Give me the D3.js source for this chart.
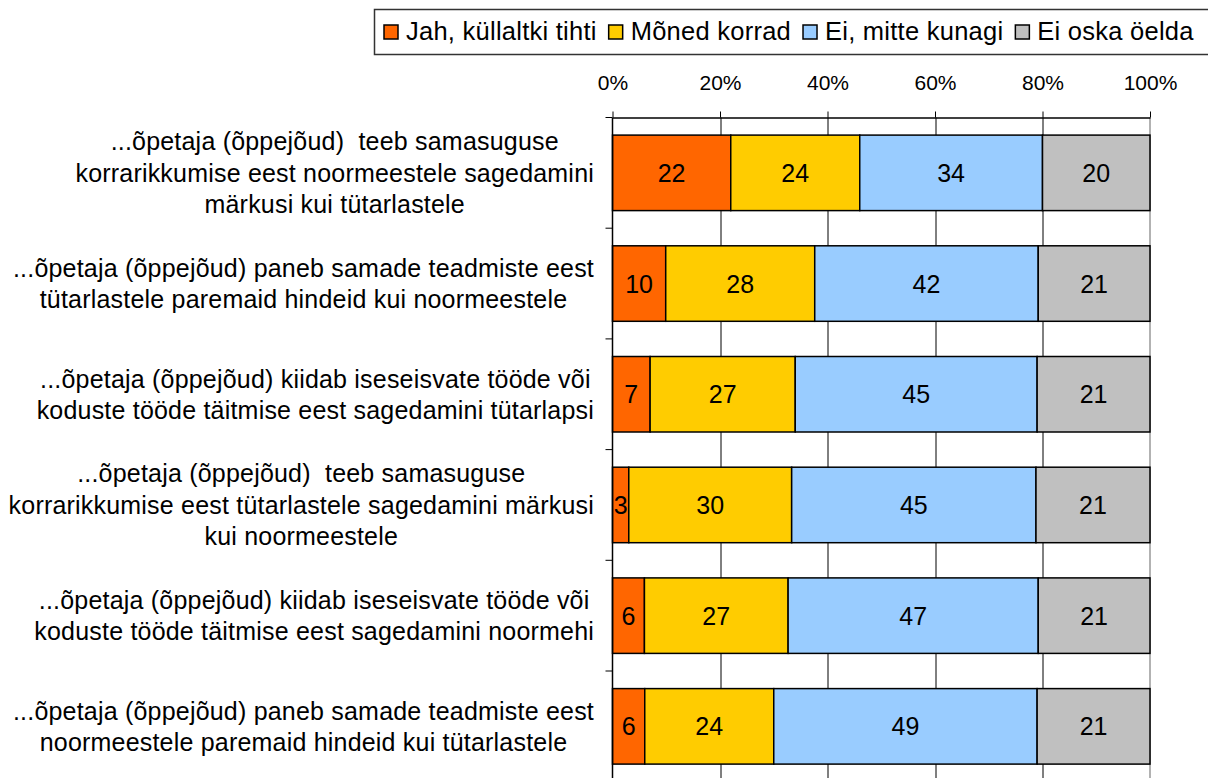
<!DOCTYPE html>
<html>
<head>
<meta charset="utf-8">
<script src="https://cdn.jsdelivr.net/npm/d3@7"></script>
<style>
	body { margin: 0; background: #fff; }
	svg { font-family: "Liberation Sans", Arial, sans-serif; }
</style>
</head>
<body>
<div id="chart"></div>
<script>
(function () {
	"use strict";

	// Data
	var categories = [
		["...õpetaja (õppejõud)  teeb samasuguse", "korrarikkumise eest noormeestele sagedamini", "märkusi kui tütarlastele"],
		["...õpetaja (õppejõud) paneb samade teadmiste eest", "tütarlastele paremaid hindeid kui noormeestele"],
		["...õpetaja (õppejõud) kiidab iseseisvate tööde või", "koduste tööde täitmise eest sagedamini tütarlapsi"],
		["...õpetaja (õppejõud)  teeb samasuguse", "korrarikkumise eest tütarlastele sagedamini märkusi", "kui noormeestele"],
		["...õpetaja (õppejõud) kiidab iseseisvate tööde või", "koduste tööde täitmise eest sagedamini noormehi"],
		["...õpetaja (õppejõud) paneb samade teadmiste eest", "noormeestele paremaid hindeid kui tütarlastele"]
	];
	var seriesNames = ["Jah, küllaltki tihti", "Mõned korrad", "Ei, mitte kunagi", "Ei oska öelda"];
	var jahValues = [22, 10, 7, 3, 6, 6];
	var monedValues = [24, 28, 27, 30, 27, 24];
	var eiValues = [34, 42, 45, 45, 47, 49];
	var eiOskaValues = [20, 21, 21, 21, 21, 21];
	var tickValues = [0, 0.2, 0.4, 0.6, 0.8, 1];
	var colors = ["#FF6600", "#FFCC00", "#99CCFF", "#C0C0C0"];

	var canvasWidth = 1208,
		canvasHeight = 778,
		margin = {top: 117.5, left: 612.5},
		width = 537.5,
		step = 110.7,
		height = step * categories.length;

	var svg = d3.select("#chart").append("svg")
		.attr("width", canvasWidth)
		.attr("height", canvasHeight);

	var keys = d3.range(categories.length);
	var allValues = [jahValues, monedValues, eiValues, eiOskaValues];
	var rows = keys.map(function (i) {
		var row = {idx: i};
		seriesNames.forEach(function (s, j) { row[s] = allValues[j][i]; });
		return row;
	});

	var stack = d3.stack().keys(seriesNames).offset(d3.stackOffsetExpand);
	var stacked = stack(rows);

	var x = d3.scaleLinear().domain([0, 1]).range([0, width]);
	var y = d3.scaleBand().domain(keys).range([0, height])
		.paddingInner(0.318).paddingOuter(0.159);

	var graph = svg.append("g")
		.attr("transform", "translate(" + margin.left + "," + margin.top + ")");

	// vertical gridlines
	graph.append("g").selectAll("line")
		.data(tickValues.slice(1, -1))
		.enter().append("line")
		.attr("x1", function (d) { return Math.round(x(d)) + 0.5; })
		.attr("x2", function (d) { return Math.round(x(d)) + 0.5; })
		.attr("y1", 0).attr("y2", height)
		.attr("stroke", "#000").attr("stroke-width", 1);

	// right border
	graph.append("line")
		.attr("x1", x(1)).attr("x2", x(1))
		.attr("y1", 0).attr("y2", height)
		.attr("stroke", "#999").attr("stroke-width", 1.5);

	// bars
	var layers = graph.selectAll(".layer")
		.data(stacked)
		.enter().append("g")
		.attr("class", "layer")
		.attr("fill", function (d, i) { return colors[i]; });

	layers.selectAll("rect")
		.data(function (d) { return d; })
		.enter().append("rect")
		.attr("x", function (d) { return x(d[0]); })
		.attr("width", function (d) { return x(d[1]) - x(d[0]); })
		.attr("y", function (d) { return y(d.data.idx); })
		.attr("height", y.bandwidth())
		.attr("stroke", "#000")
		.attr("stroke-width", 1.5);

	// value labels
	layers.selectAll("text")
		.data(function (d) { return d.map(function (p) { return {p: p, key: d.key}; }); })
		.enter().append("text")
		.attr("x", function (d) { return (x(d.p[0]) + x(d.p[1])) / 2; })
		.attr("y", function (d) { return y(d.p.data.idx) + y.bandwidth() / 2; })
		.attr("dy", "0.36em")
		.attr("text-anchor", "middle")
		.attr("fill", "#000")
		.style("font-size", "25px")
		.text(function (d) { return d.p.data[d.key]; });

	// top axis
	var xAxis = graph.append("g")
		.call(d3.axisTop(x).tickValues(tickValues).tickFormat(d3.format(".0%"))
			.tickSize(6).tickPadding(22).tickSizeOuter(0));
	xAxis.select(".domain").attr("stroke", "#000").attr("stroke-width", 1.5);
	xAxis.selectAll("text").style("font-size", "21px").attr("fill", "#000");

	// left axis line and ticks between categories
	graph.append("line")
		.attr("x1", 0).attr("x2", 0).attr("y1", 0).attr("y2", height)
		.attr("stroke", "#000").attr("stroke-width", 1.5);
	graph.append("g").selectAll("line")
		.data(d3.range(categories.length + 1))
		.enter().append("line")
		.attr("x1", -7).attr("x2", 0)
		.attr("y1", function (i) { return y.range()[0] + i * y.step(); })
		.attr("y2", function (i) { return y.range()[0] + i * y.step(); })
		.attr("stroke", "#000").attr("stroke-width", 1);

	// category labels: block centred, right edge against the axis
	var lineHeight = 31.5, labelRight = 594;
	categories.forEach(function (lines, i) {
		var g = svg.append("g").style("font-size", "25px").style("letter-spacing", "0.2px");
		var cy = margin.top + y(i) + y.bandwidth() / 2;
		var texts = lines.map(function (t, k) {
			return g.append("text")
				.attr("xml:space", "preserve")
				.attr("y", cy + (k - (lines.length - 1) / 2) * lineHeight)
				.attr("dy", "0.36em")
				.attr("text-anchor", "middle")
				.attr("fill", "#000")
				.text(t);
		});
		var maxW = d3.max(texts, function (t) { return t.node().getComputedTextLength(); });
		texts.forEach(function (t) { t.attr("x", labelRight - maxW / 2); });
	});

	// legend
	var legend = svg.append("g");
	legend.append("rect")
		.attr("x", 374.5).attr("y", 9.5)
		.attr("width", 850).attr("height", 45)
		.attr("fill", "#fff").attr("stroke", "#333").attr("stroke-width", 1.5);
	var lx = 384;
	seriesNames.forEach(function (name, i) {
		legend.append("rect")
			.attr("x", lx).attr("y", 25)
			.attr("width", 14).attr("height", 14)
			.attr("fill", colors[i]).attr("stroke", "#000").attr("stroke-width", 1.5);
		var t = legend.append("text")
			.attr("x", lx + 22).attr("y", 39.5)
			.attr("fill", "#000")
			.style("font-size", "25.5px")
			.style("letter-spacing", "0.25px")
			.text(name);
		lx += 22 + t.node().getComputedTextLength() + 12;
	});
})();
</script>
</body>
</html>
